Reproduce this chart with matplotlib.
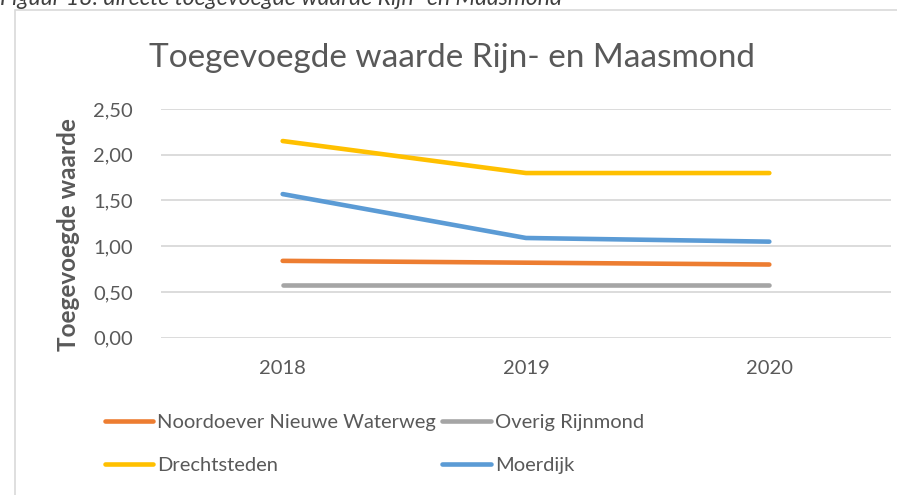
import matplotlib
matplotlib.use("Agg")
import matplotlib.pyplot as plt
from matplotlib.patches import Rectangle

years = ["2018", "2019", "2020"]
noordoever = [0.84, 0.82, 0.80]
overig = [0.58, 0.58, 0.58]
drechtsteden = [2.15, 1.80, 1.80]
moerdijk = [1.57, 1.09, 1.05]
yticks = [0.0, 0.5, 1.0, 1.5, 2.0, 2.5]
ytick_labels = ["0,00", "0,50", "1,00", "1,50", "2,00", "2,50"]

FONT = "Lato"
TXT = "#595959"
plt.rcParams["font.family"] = [FONT, "DejaVu Sans"]

W, H = 897, 495
fig = plt.figure(figsize=(W / 100, H / 100), dpi=100)

# chart border
fig.patches.append(Rectangle((15 / W, -0.1), 2, 1.1 - 10 / H, transform=fig.transFigure,
                             fill=False, edgecolor="#d9d9d9", lw=1.2, zorder=0))
# caption (cut off at top, as in the source document)
fig.text(0 / W, 1 - 5 / H, "Figuur 18: directe toegevoegde waarde Rijn- en Maasmond",
         fontsize=16.5, style="italic", color="#404040", va="baseline", ha="left")

ax = fig.add_axes([161 / W, 1 - 337.7 / H, (891 - 161) / W, (337.7 - 109) / H])
x = list(range(len(years)))
series = [
    ("Noordoever Nieuwe Waterweg", noordoever, "#ED7D31"),
    ("Overig Rijnmond", overig, "#A5A5A5"),
    ("Drechtsteden", drechtsteden, "#FFC000"),
    ("Moerdijk", moerdijk, "#5B9BD5"),
]
lines = {}
for name, vals, col in series:
    (ln,) = ax.plot(x, vals, color=col, lw=3.3, solid_capstyle="round", label=name, zorder=3)
    lines[name] = ln

ax.set_xlim(-0.5, 2.5)
ax.set_ylim(0, 2.5)
ax.set_yticks(yticks)
ax.set_yticklabels(ytick_labels)
ax.set_xticks(x)
ax.set_xticklabels(years)
ax.grid(axis="y", color="#d9d9d9", lw=1.3)
ax.set_axisbelow(True)
for s in ax.spines.values():
    s.set_visible(False)
ax.tick_params(axis="both", length=0, labelsize=14.5, labelcolor=TXT)
ax.tick_params(axis="y", pad=20)
ax.tick_params(axis="x", pad=16)
ax.set_ylabel("Toegevoegde waarde", fontsize=17.5, fontweight="bold", color=TXT, va="center")
ax.yaxis.set_label_coords((69 - 161) / (891 - 161), (337.7 - 235) / (337.7 - 109))

ax.set_title("Toegevoegde waarde Rijn- en Maasmond", fontsize=24, color=TXT, pad=0,
             x=(452 - 161) / (891 - 161), y=1.0 + (109 - 58) / (337.7 - 109), va="center")

order = ["Noordoever Nieuwe Waterweg", "Drechtsteden", "Overig Rijnmond", "Moerdijk"]
leg = fig.legend([lines[n] for n in order], order, ncol=2, loc="upper left",
                 bbox_to_anchor=(105 / W, 1 - 414 / H), frameon=False, borderpad=0,
                 borderaxespad=0,
                 fontsize=14.5, handlelength=2.4, handletextpad=0.2,
                 columnspacing=0.3, labelspacing=1.3, labelcolor=TXT)

fig.savefig("out.png", dpi=100)
